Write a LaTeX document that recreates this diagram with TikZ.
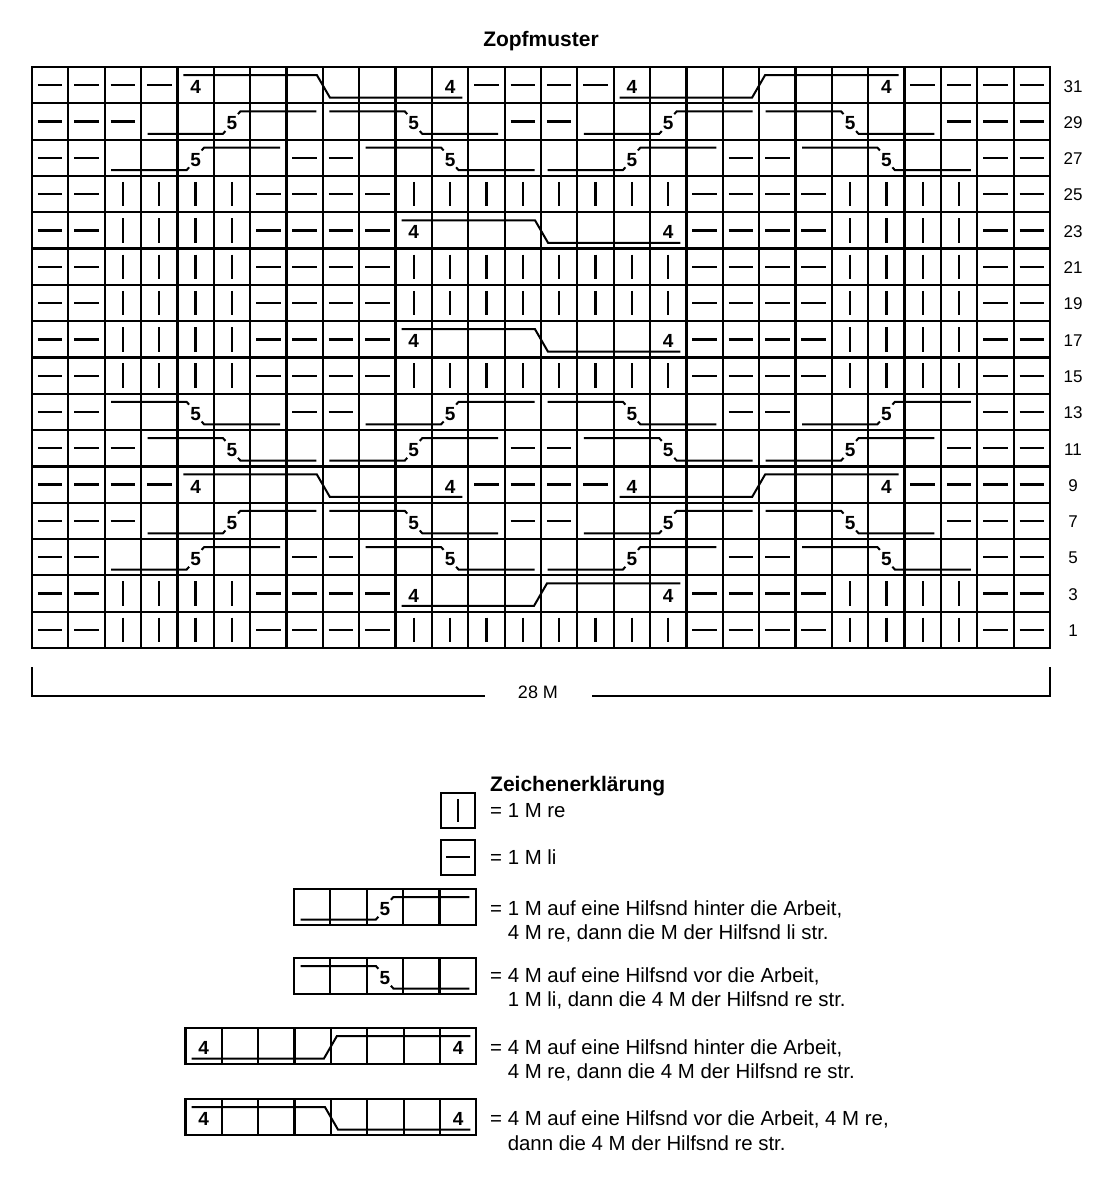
\documentclass[tikz,border=0pt]{standalone}
\usepackage{fontspec}
\setmainfont{Liberation Sans}
\def\cw{36.357}
\def\ch{36.3125}
\def\ox{32}
\def\oy{67}
\tikzset{
 gridline/.style={line width=2.2pt},
 sym/.style={line width=2.3pt},
 cab/.style={line width=2pt, line join=miter},
 num/.style={font=\fontsize{19}{19}\selectfont\bfseries, inner sep=0pt},
 rnum/.style={font=\fontsize{17}{17}\selectfont, inner sep=0pt},
 ltext/.style={font=\fontsize{20.4}{24}\selectfont, inner sep=0pt, anchor=base west},
 head/.style={font=\fontsize{21}{21}\selectfont\bfseries, inner sep=0pt},
 measure/.style={line width=1.4pt},
}
\newcommand\kdash[2]{\draw[sym] ({\ox+(#1+0.5)*\cw-12.3},{\oy+(#2+0.5)*\ch}) -- ++(24.6,0);}
\newcommand\kbar[2]{\draw[sym] ({\ox+(#1+0.5)*\cw},{\oy+(#2+0.5)*\ch-12.2}) -- ++(0,24.4);}
\newcommand\dashes[3]{\foreach \cc in {#1,...,#2}{\kdash{\cc}{#3}}}
\newcommand\bars[3]{\foreach \cc in {#1,...,#2}{\kbar{\cc}{#3}}}
\newcommand\cabsetup[2]{%
 \pgfmathsetmacro\xa{\ox+#1*\cw}\pgfmathsetmacro\yt{\oy+#2*\ch}%
 \pgfmathsetmacro\xf{\xa+2.5*\cw}\pgfmathsetmacro\yb{\yt+\ch-5.8}\pgfmathsetmacro\yu{\yt+8}}
% 5-cable, line bottom-left, 5, line top-right
\newcommand\cabA[2]{\cabsetup{#1}{#2}%
 \draw[cab] (\xa+6.5,\yb) -- (\xf-9,\yb) -- (\xf-6.5,\yb-2.8);
 \draw[cab] (\xf+6,\yu+2.8) -- (\xf+8.5,\yu) -- (\xa+5*\cw-6.5,\yu);
 \node[num] (fa-#1-#2) at (\xf,\yt+\ch/2+2) {5};}
% 5-cable, line top-left, 5, line bottom-right
\newcommand\cabB[2]{\cabsetup{#1}{#2}%
 \draw[cab] (\xa+6.5,\yu) -- (\xf-9,\yu) -- (\xf-6.5,\yu+2.8);
 \draw[cab] (\xf+6,\yb-2.8) -- (\xf+8.5,\yb) -- (\xa+5*\cw-6.5,\yb);
 \node[num] (fb-#1-#2) at (\xf,\yt+\ch/2+2) {5};}
% 8-cable vor: top-left, slant down, bottom-right
\newcommand\cabV[2]{\cabsetup{#1}{#2}%
 \draw[cab] (\xa+6,\yu) -- (\xa+4*\cw-6,\yu) -- (\xa+4*\cw+7,\yb) -- (\xa+8*\cw-6,\yb);
 \node[num] (va-#1-#2) at (\xa+0.5*\cw,\yt+\ch/2+2) {4};
 \node[num] (vb-#1-#2) at (\xa+7.5*\cw,\yt+\ch/2+2) {4};}
% 8-cable hinter: bottom-left, slant up, top-right
\newcommand\cabH[2]{\cabsetup{#1}{#2}%
 \draw[cab] (\xa+6,\yb) -- (\xa+4*\cw-7,\yb) -- (\xa+4*\cw+6,\yu) -- (\xa+8*\cw-6,\yu);
 \node[num] (ha-#1-#2) at (\xa+0.5*\cw,\yt+\ch/2+2) {4};
 \node[num] (hb-#1-#2) at (\xa+7.5*\cw,\yt+\ch/2+2) {4};}
\newcommand\rowP[1]{\dashes{0}{1}{#1}\bars{2}{5}{#1}\dashes{6}{9}{#1}\bars{10}{17}{#1}\dashes{18}{21}{#1}\bars{22}{25}{#1}\dashes{26}{27}{#1}}
\newcommand\rowW[1]{\dashes{0}{3}{#1}\cabV{4}{#1}\dashes{12}{15}{#1}\cabH{16}{#1}\dashes{24}{27}{#1}}
\newcommand\rowX[1]{\dashes{0}{2}{#1}\cabA{3}{#1}\cabB{8}{#1}\dashes{13}{14}{#1}\cabA{15}{#1}\cabB{20}{#1}\dashes{25}{27}{#1}}
\newcommand\rowY[1]{\dashes{0}{1}{#1}\cabA{2}{#1}\dashes{7}{8}{#1}\cabB{9}{#1}\cabA{14}{#1}\dashes{19}{20}{#1}\cabB{21}{#1}\dashes{26}{27}{#1}}
\newcommand\rowXm[1]{\dashes{0}{2}{#1}\cabB{3}{#1}\cabA{8}{#1}\dashes{13}{14}{#1}\cabB{15}{#1}\cabA{20}{#1}\dashes{25}{27}{#1}}
\newcommand\rowYm[1]{\dashes{0}{1}{#1}\cabB{2}{#1}\dashes{7}{8}{#1}\cabA{9}{#1}\cabB{14}{#1}\dashes{19}{20}{#1}\cabA{21}{#1}\dashes{26}{27}{#1}}
\newcommand\rowV[1]{\dashes{0}{1}{#1}\bars{2}{5}{#1}\dashes{6}{9}{#1}\cabV{10}{#1}\dashes{18}{21}{#1}\bars{22}{25}{#1}\dashes{26}{27}{#1}}
\newcommand\rowH[1]{\dashes{0}{1}{#1}\bars{2}{5}{#1}\dashes{6}{9}{#1}\cabH{10}{#1}\dashes{18}{21}{#1}\bars{22}{25}{#1}\dashes{26}{27}{#1}}
\newcommand\lbox[3]{\draw[gridline] (#1,#2) rectangle ({#1+(#3+1)*\cw},{#2+\ch});
 \foreach \kk in {1,...,#3}{\draw[gridline] ({#1+\kk*\cw},#2) -- ++(0,\ch);}}
\begin{document}
\begin{tikzpicture}[x=1pt,y=-1pt]
\useasboundingbox (0,0) rectangle (1105,1200);
\node[head] (title) at (541,41) {Zopfmuster};
% grid
\draw[gridline] (32,67) rectangle (1050,648);
\foreach \i in {1,...,27} {\draw[gridline] ({32+\i*\cw},67) -- ({32+\i*\cw},648);}
\foreach \j in {1,...,15} {\draw[gridline] (32,{67+\j*\ch}) -- (1050,{67+\j*\ch});}
% rows (index from top)
\rowW{0}
\rowX{1}
\rowY{2}
\rowP{3}
\rowV{4}
\rowP{5}
\rowP{6}
\rowV{7}
\rowP{8}
\rowYm{9}
\rowXm{10}
\rowW{11}
\rowX{12}
\rowY{13}
\rowH{14}
\rowP{15}
% row numbers
\foreach \j in {0,...,15} {\pgfmathtruncatemacro\rn{31-2*\j}
 \node[rnum] (rn\j) at (1073,{67+(\j+0.5)*\ch+1}) {\rn};}
% measure
\node[font=\fontsize{18}{18}\selectfont, inner sep=0pt] (meas) at (538,692) {28 M};
\coordinate (mL) at (32,667);
\coordinate (mR) at (1050,667);
\draw[measure] (mL) -- (32,696) -- (485,696);
\draw[measure] (592,696) -- (1050,696) -- (mR);
% legend
\node[head, anchor=base west] (legtitle) at (490,791) {Zeichenerklärung};
\draw[gridline] (441,793) rectangle (475,828);
\draw[sym] (458,799) -- (458,822);
\node[ltext] (l1) at (490,817) {= 1 M re};
\draw[gridline] (441,840) rectangle (475,875);
\draw[sym] (446,857) -- (470,857);
\node[ltext] (l2) at (490,864) {= 1 M li};
% legend A
\lbox{294}{889}{4}
\def\ox{294}\def\oy{889}\cabA{0}{0}
\node[ltext] (l3a) at (490,915) {= 1 M auf eine Hilfsnd hinter die Arbeit,};
\node[ltext] (l3b) at (490,939) {\phantom{= }4 M re, dann die M der Hilfsnd li str.};
% legend B
\lbox{294}{958}{4}
\def\ox{294}\def\oy{958}\cabB{0}{0}
\node[ltext] (l4a) at (490,982) {= 4 M auf eine Hilfsnd vor die Arbeit,};
\node[ltext] (l4b) at (490,1006) {\phantom{= }1 M li, dann die 4 M der Hilfsnd re str.};
% legend H
\lbox{185.5}{1028}{7}
\def\ox{185.5}\def\oy{1028}\cabH{0}{0}
\node[ltext] (l5a) at (490,1054) {= 4 M auf eine Hilfsnd hinter die Arbeit,};
\node[ltext] (l5b) at (490,1078) {\phantom{= }4 M re, dann die 4 M der Hilfsnd re str.};
% legend V
\lbox{185.5}{1099}{7}
\def\ox{185.5}\def\oy{1099}\cabV{0}{0}
\node[ltext] (l6a) at (490,1125) {= 4 M auf eine Hilfsnd vor die Arbeit, 4 M re,};
\node[ltext] (l6b) at (490,1150) {\phantom{= }dann die 4 M der Hilfsnd re str.};
\end{tikzpicture}
\end{document}
